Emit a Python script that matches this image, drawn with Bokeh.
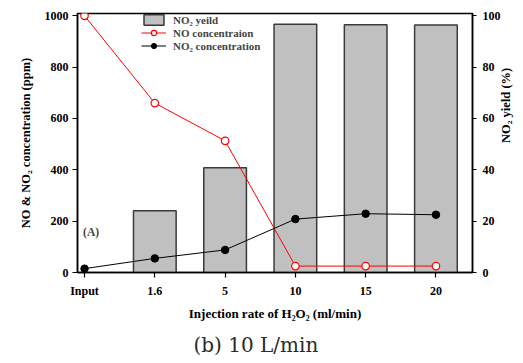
import math
from bokeh.plotting import figure
from bokeh.models import (Range1d, LinearAxis, FixedTicker, Legend, LegendItem,
                          Label, Title)
from bokeh.embed import file_html
from bokeh.resources import INLINE

categories = ["Input", "1.6", "5", "10", "15", "20"]
no_conc = [1000, 660, 513, 25, 25, 25]
no2_conc = [15, 55, 88, 208, 229, 225]
bar_categories = ["1.6", "5", "10", "15", "20"]
no2_yield = [24.1, 40.8, 96.7, 96.5, 96.4]
left_ticks = [0, 200, 400, 600, 800, 1000]
right_ticks = [0, 20, 40, 60, 80, 100]

xpos = list(range(len(categories)))
bar_x = [categories.index(c) for c in bar_categories]

FONT = "Liberation Serif"

p = figure(width=523, height=363, output_backend="svg", toolbar_location=None,
           x_range=Range1d(-0.1, 5.52), y_range=Range1d(0, 1009),
           min_border_left=77, min_border_right=51, min_border_top=13,
           min_border_bottom=0)
p.extra_y_ranges = {"yield": Range1d(0, 100.9)}
p.xgrid.visible = False
p.ygrid.visible = False
p.outline_line_color = "black"
p.outline_line_width = 1.5
p.background_fill_color = "white"
p.border_fill_color = "white"

bars = p.vbar(x=bar_x, top=no2_yield, width=0.607, y_range_name="yield",
              fill_color="#c0c0c0", line_color="#3a3a3a", line_width=1.5)

no_line = p.line(xpos, no_conc, line_color="red", line_width=1)
no_pts = p.scatter(xpos, no_conc, size=7.5, marker="circle", fill_color="white",
                   line_color="red", line_width=1.2)
no2_line = p.line(xpos, no2_conc, line_color="black", line_width=1)
no2_pts = p.scatter(xpos, no2_conc, size=7.5, marker="circle", fill_color="black",
                    line_color="black")

# axes
xa = p.xaxis[0]
xa.ticker = FixedTicker(ticks=xpos)
xa.major_label_overrides = {i: c for i, c in enumerate(categories)}
xa.axis_label = "Injection rate of H\u2082O\u2082 (ml/min)"

ya = p.yaxis[0]
ya.ticker = FixedTicker(ticks=left_ticks)
ya.axis_label = "NO & NO\u2082 concentration (ppm)"

ra = LinearAxis(y_range_name="yield", ticker=FixedTicker(ticks=right_ticks),
                axis_label="NO\u2082 yield (%)")
p.add_layout(ra, "right")

for ax in [xa, ya, ra]:
    ax.axis_line_width = 1.5
    ax.axis_line_color = "black"
    ax.major_tick_out = 5
    ax.major_tick_in = 0
    ax.major_tick_line_width = 1.2
    ax.minor_tick_line_color = None
    ax.major_label_text_font = FONT
    ax.major_label_text_font_style = "bold"
    ax.major_label_text_font_size = "12px"
    ax.major_label_text_color = "black"
    ax.axis_label_text_font = FONT
    ax.axis_label_text_font_style = "bold"
    ax.axis_label_text_font_size = "13px"
    ax.axis_label_text_color = "black"

xa.major_label_standoff = 6
xa.axis_label_standoff = 5
ya.major_label_standoff = 4
ya.axis_label_standoff = 9
ya.axis_label_text_font_size = "12.5px"
ra.major_tick_out = 4
ra.major_label_standoff = 6
ra.axis_label_standoff = 2
ra.axis_label_text_font_size = "12.5px"
ra.axis_label_orientation = math.pi / 2

legend = Legend(items=[
    LegendItem(label="NO\u2082 yeild", renderers=[bars]),
    LegendItem(label="NO concentraion", renderers=[no_line, no_pts]),
    LegendItem(label="NO\u2082 concentration", renderers=[no2_line, no2_pts]),
], location=(64, 220))
legend.glyph_width = 25
legend.glyph_height = 13
legend.label_height = 13
legend.spacing = 0
legend.padding = 0
legend.margin = 0
legend.label_standoff = 7
legend.border_line_color = None
legend.background_fill_alpha = 0
legend.label_text_font = FONT
legend.label_text_font_style = "bold"
legend.label_text_font_size = "11px"
p.add_layout(legend)

p.add_layout(Label(x=-0.02, y=156, text="(A)", text_font=FONT, text_font_style="bold",
                   text_font_size="11.5px", text_baseline="middle"))

caption = Title(text="(b) 10 L/min", align="left", offset=116,
                text_font="DejaVu Serif", text_font_size="20px",
                text_font_style="normal", text_color="#2a2a2a", standoff=14)
p.add_layout(caption, "below")

open("out.html", "w").write(file_html(p, INLINE))
